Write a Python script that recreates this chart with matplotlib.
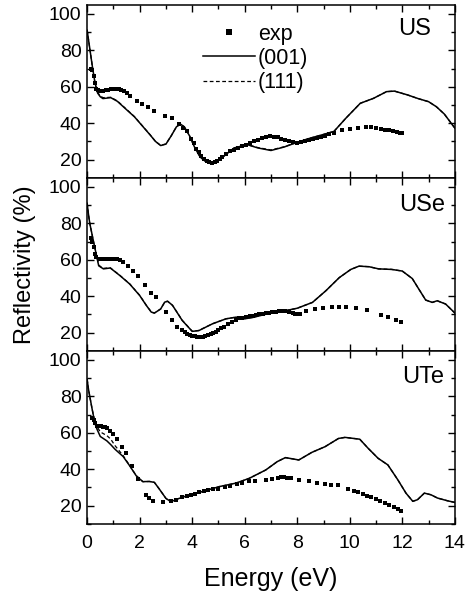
import matplotlib.pyplot as plt
from matplotlib.ticker import MultipleLocator

plt.rcParams['font.family'] = ['Liberation Sans', 'DejaVu Sans']

# ---- US ----
us_exp_e = [0.15, 0.2, 0.25, 0.3, 0.35, 0.4, 0.45, 0.5, 0.6, 0.7, 0.8, 0.9, 1.0, 1.1, 1.2, 1.3,
            1.4, 1.5, 1.65, 1.9, 2.1, 2.3, 2.55, 2.95, 3.25, 3.5, 3.65, 3.8, 3.95, 4.05, 4.15,
            4.25, 4.35, 4.45, 4.55, 4.65, 4.75, 4.85, 4.95, 5.05, 5.15, 5.3, 5.45, 5.6, 5.75,
            5.9, 6.05, 6.2, 6.35, 6.5, 6.65, 6.8, 6.95, 7.1, 7.25, 7.4, 7.55, 7.7, 7.85, 8.0,
            8.15, 8.3, 8.45, 8.6, 8.75, 8.9, 9.05, 9.2, 9.4, 9.7, 10.0, 10.3, 10.6, 10.8, 11.0,
            11.2, 11.35, 11.5, 11.65, 11.8, 11.9, 12.0]
us_exp_r = [70, 69, 66, 62, 59, 58, 57.5, 57.5, 57.8, 58, 58.2, 58.5, 58.8, 59, 58.8, 58.3,
            57.5, 56.5, 55, 52.2, 50.4, 48.6, 46.7, 44, 42.6, 39.5, 37.5, 35.5, 31.5, 29, 26,
            24, 22, 20.5, 19.3, 18.6, 18.3, 18.5, 19, 20.5, 21.5, 23, 24.5, 25.5, 26.3,
            27.2, 28.2, 29.2, 30.2, 31, 31.8, 32.3, 32.7, 32.6, 32.2, 31.5, 30.7, 30, 29.4, 29.2,
            29.6, 30.2, 30.8, 31.4, 32, 32.6, 33.2, 33.8, 34.8, 36, 36.9, 37.5, 37.8, 37.8, 37.5,
            37, 36.5, 36, 35.6, 35.1, 34.8, 34.5]
us_calc_e = [0, 0.05, 0.1, 0.2, 0.3, 0.4, 0.5, 0.6, 0.9, 1.15, 1.5, 1.8, 2.1, 2.4, 2.6, 2.8,
             3.0, 3.2, 3.4, 3.55, 3.7, 3.9, 4.1, 4.3, 4.5, 4.7, 4.9, 5.1, 5.3, 5.6, 6.1, 6.5,
             7.0, 7.5, 8.0, 8.5, 9.0, 9.4, 9.85, 10.4, 10.9, 11.4, 11.7, 12.2, 12.6, 13.0, 13.3,
             13.6, 14.0]
us_001 = [91, 86, 81, 71, 62, 56.5, 54.5, 53.5, 54, 52, 47.4, 43.5, 38.5, 33.5, 30, 27.7,
          28.5, 33, 38, 39.5, 38, 33, 26.5, 21.5, 19, 17.8, 18.5, 20.5, 23, 26.4, 28.2, 26.4,
          25, 26.9, 29.5, 31.8, 33.8, 35.5, 42.7, 50.9, 53.6, 57.3, 57.6, 55.5, 53.5, 51.8, 49,
          45, 37.3]
us_111 = [91, 86, 81, 71, 62, 56.8, 55, 54, 54.2, 52.2, 47.6, 43.6, 38.6, 33.6, 30, 27.8,
          28.6, 33, 38, 39.5, 38, 33, 26.5, 21.5, 19, 17.9, 18.6, 20.6, 23.1, 26.4, 28.2, 26.6,
          25.3, 27, 29.5, 31.8, 33.8, 35.5, 42.7, 50.9, 53.6, 57.3, 57.6, 55.5, 53.5, 51.8, 49,
          45, 37.3]

# ---- USe ----
use_exp_e = [0.15, 0.2, 0.25, 0.3, 0.35, 0.44, 0.55, 0.65, 0.75, 0.85, 0.95, 1.05, 1.12, 1.25,
             1.37, 1.56, 1.75, 1.94, 2.19, 2.44, 2.62, 3.0, 3.25, 3.44, 3.62, 3.72, 3.81, 3.9,
             4.0, 4.1, 4.2, 4.3, 4.4, 4.5, 4.6, 4.7, 4.8, 4.9, 5.0, 5.1, 5.2, 5.35, 5.5, 5.67,
             5.8, 5.9, 6.05, 6.2, 6.3, 6.43, 6.55, 6.7, 6.8, 6.94, 7.05, 7.2, 7.3, 7.44, 7.55,
             7.7, 7.82, 7.9, 8.0, 8.1, 8.33, 8.68, 8.99, 9.34, 9.6, 9.85, 10.25, 10.67, 11.18,
             11.47, 11.75, 11.94]
use_exp_r = [72, 70, 67, 63, 61.5, 60.7, 60.6, 60.6, 60.6, 60.5, 60.5, 60.4, 60.4, 59.8,
             58.9, 56.7, 54, 51.3, 46.2, 41.8, 39.5, 31.6, 26.7, 23, 21.3, 20.4, 19.5, 18.8,
             18.2, 17.9, 17.6, 17.5, 17.7, 18, 18.5, 19, 19.7, 20.4, 21.3, 22.3, 23.3, 24.8, 26,
             27.2, 27.8, 28.1, 28.5, 28.9, 29.3, 29.8, 30.1, 30.5, 30.7, 30.8, 31.1, 31.5, 31.8,
             32.1, 32, 31.5, 30.8, 30.5, 30.3, 30.5, 32.1, 32.8, 33.4, 34.3, 34.3, 33.9, 33.4,
             32.5, 29.8, 28.5, 27, 25.8]
use_calc_e = [0, 0.05, 0.1, 0.25, 0.44, 0.62, 0.88, 1.25, 1.62, 2.0, 2.25, 2.44, 2.56, 2.8,
              2.95, 3.06, 3.25, 3.62, 4.0, 4.25, 4.78, 5.29, 5.67, 6.0, 6.3, 7.0, 7.57, 8.0,
              8.58, 9.09, 9.6, 10.04, 10.35, 10.73, 11.1, 11.6, 12.0, 12.38, 12.63, 12.89, 13.14,
              13.33, 13.65, 14.0]
use_001 = [91, 85, 80, 69.5, 56.7, 55, 55.5, 51.3, 46.7, 40.4, 35, 31.3, 30.7, 33, 36.7, 37.3,
           35, 26.7, 20.7, 21.1, 24.9, 27.6, 28.5, 27.6, 28.3, 30.8, 32.1, 33.4, 36.6, 43, 50.2,
           54.7, 56.5, 56.2, 55, 54.7, 53.8, 49.7, 43.9, 37.9, 36.6, 37.5, 35.7, 30.8]
use_111 = [91, 85, 80, 69.5, 57, 55.3, 55.6, 51.4, 46.8, 40.5, 35.1, 31.4, 30.8, 33, 36.6, 37.2,
           35, 26.8, 20.8, 21.2, 24.9, 27.6, 28.5, 27.7, 28.4, 30.8, 32.1, 33.4, 36.6, 43, 50.2,
           54.7, 56.5, 56.2, 55, 54.7, 53.8, 49.7, 43.9, 37.9, 36.6, 37.5, 35.7, 30.8]

# ---- UTe ----
ute_exp_e = [0.2, 0.25, 0.3, 0.37, 0.44, 0.52, 0.6, 0.67, 0.75, 0.87, 1.0, 1.12, 1.31, 1.47,
             1.69, 1.94, 2.25, 2.37, 2.5, 2.87, 3.19, 3.37, 3.62, 3.8, 3.94, 4.1, 4.25, 4.45,
             4.62, 4.8, 5.0, 5.25, 5.44, 5.69, 5.9, 6.17, 6.4, 6.8, 7.05, 7.25, 7.4, 7.49, 7.6,
             7.75, 8.06, 8.43, 8.75, 9.06, 9.3, 9.57, 9.94, 10.15, 10.32, 10.5, 10.65, 10.82,
             11.0, 11.15, 11.33, 11.5, 11.7, 11.85, 11.96]
ute_exp_r = [68.4, 67, 65.5, 63.8, 64, 63.6, 63.3, 63, 62.5, 61, 59.3, 56.5, 52, 49.2, 41.6,
             34.6, 25.8, 24, 22.7, 22.2, 22.7, 23.3, 24.6, 25.2, 25.8, 26.6, 27.3, 28, 28.6, 28.9,
             29.1, 30, 31, 31.9, 32.5, 33.3, 33.7, 34.2, 34.6, 35.2, 35.5, 35.5, 35.3, 35, 34.2,
             33.3, 32.6, 31.8, 31.5, 31.1, 29.3, 28.3, 27.3, 26.4, 25.5, 24.5, 23.5, 22.6, 21.5,
             20.5, 19.1, 18.2, 17.3]
ute_calc_e = [0, 0.05, 0.1, 0.19, 0.3, 0.375, 0.5, 0.75, 0.9, 1.06, 1.37, 1.62, 1.87, 2.12,
              2.37, 2.56, 2.75, 3.0, 3.19, 3.5, 4.0, 4.5, 5.04, 5.67, 6.17, 6.8, 7.24, 7.55,
              8.06, 8.56, 9.06, 9.57, 9.82, 10.38, 10.7, 11.08, 11.45, 11.83, 12.14, 12.4,
              12.58, 12.84, 13.09, 13.34, 13.72, 14.0]
ute_001 = [89.4, 84, 80, 73, 65, 62, 58, 55.6, 53.5, 51, 47, 41.9, 36.4, 33.2, 33.3, 32.8,
           29.1, 24, 22.2, 24, 26.4, 28.2, 30.5, 32.4, 35, 39.6, 44.2, 46.4, 45.1, 49.3, 52.4,
           56.9, 57.5, 56.5, 51.5, 46, 42.4, 34.2, 26.9, 22.4, 23.3, 26.9, 26, 24.2, 22.7, 21.8]
ute_111 = [89.4, 84, 80, 73, 66, 63.5, 60.5, 58.5, 56.5, 53, 47.5, 42, 36.5, 33.2, 33.3, 32.8,
           29.1, 24, 22.2, 24, 26.4, 28.2, 30.5, 32.4, 35, 39.6, 44.2, 46.4, 45.1, 49.3, 52.4,
           56.9, 57.5, 56.5, 51.5, 46, 42.4, 34.2, 26.9, 22.4, 23.3, 26.9, 26, 24.2, 22.7, 21.8]

panels = [
    ("US", us_exp_e, us_exp_r, us_calc_e, us_001, us_111, (0.935, 0.86)),
    ("USe", use_exp_e, use_exp_r, use_calc_e, use_001, use_111, (0.975, 0.84)),
    ("UTe", ute_exp_e, ute_exp_r, ute_calc_e, ute_001, ute_111, (0.97, 0.85)),
]

fig, axes = plt.subplots(3, 1, figsize=(4.66, 5.94), dpi=100, sharex=True)
fig.subplots_adjust(left=0.187, right=0.976, top=0.992, bottom=0.118, hspace=0)

for ax, (name, ee, er, ce, c001, c111, tpos) in zip(axes, panels):
    ax.plot(ee, er, 's', color='black', markersize=3.0, markeredgewidth=0, label='exp')
    ax.plot(ce, c001, '-', color='black', lw=1.1, label='(001)')
    ax.plot(ce, c111, '--', color='black', lw=0.9, dashes=(3, 2), label='(111)')
    ax.set_xlim(0, 14)
    ax.set_ylim(10, 105)
    ax.xaxis.set_major_locator(MultipleLocator(2))
    ax.xaxis.set_minor_locator(MultipleLocator(1))
    ax.yaxis.set_minor_locator(MultipleLocator(10))
    ax.set_yticks([20, 40, 60, 80, 100])
    ax.tick_params(which='both', direction='in', top=True, right=True, labelsize=14, width=1.0)
    ax.tick_params(axis='y', pad=4)
    ax.tick_params(axis='x', pad=8)
    ax.tick_params(which='major', length=5)
    ax.tick_params(which='minor', length=3)
    for sp in ax.spines.values():
        sp.set_linewidth(1.1)
    ax.text(tpos[0], tpos[1], name, transform=ax.transAxes, ha='right', va='center', fontsize=17)

leg = axes[0].legend(loc='upper left', bbox_to_anchor=(0.315, 0.89), frameon=False, fontsize=15.5,
                     handlelength=2.4, handletextpad=0.15, labelspacing=0.15, numpoints=1,
                     borderpad=0, borderaxespad=0, markerscale=1.4)

axes[1].set_ylabel("Reflectivity (%)", fontsize=17, labelpad=9)
axes[2].set_xlabel("Energy (eV)", fontsize=18, labelpad=11)

plt.savefig("out.png", dpi=100)
